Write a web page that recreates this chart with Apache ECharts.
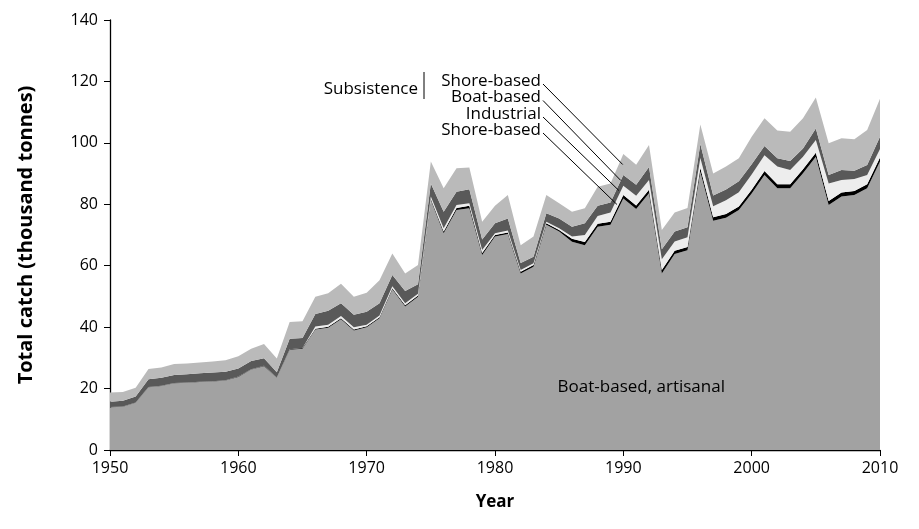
<!DOCTYPE html>
<html>
<head>
<meta charset="utf-8">
<script src="https://cdn.jsdelivr.net/npm/echarts@6/dist/echarts.min.js"></script>
<style>html,body{margin:0;padding:0;background:#fff}#c{width:919px;height:529px}</style>
</head>
<body>
<div id="c"></div>
<script>
const years = [1950,1951,1952,1953,1954,1955,1956,1957,1958,1959,1960,1961,1962,1963,1964,1965,1966,1967,1968,1969,1970,1971,1972,1973,1974,1975,1976,1977,1978,1979,1980,1981,1982,1983,1984,1985,1986,1987,1988,1989,1990,1991,1992,1993,1994,1995,1996,1997,1998,1999,2000,2001,2002,2003,2004,2005,2006,2007,2008,2009,2010];
// Boat-based, artisanal
const boatArtisanal = [13.9,14.1,15.4,20.4,20.8,21.7,21.9,22.1,22.3,22.6,23.8,26.2,27.3,23.5,32.6,33.0,39.2,39.8,42.6,38.9,40.0,42.9,52.3,46.7,49.9,81.4,70.6,78.1,78.7,63.5,69.5,70.3,57.5,59.7,73.3,71.1,67.8,66.7,72.7,73.3,81.9,78.5,83.6,57.5,63.8,65.0,90.6,74.6,75.6,78.1,83.5,89.5,85.2,85.2,90.1,95.5,79.8,82.5,83.0,85.2,93.9];
// Shore-based, artisanal
const shoreArtisanal = [0.1,0.1,0.1,0.1,0.1,0.1,0.1,0.1,0.1,0.1,0.1,0.1,0.1,0.1,0.2,0.2,0.3,0.3,0.3,0.3,0.3,0.3,0.4,0.4,0.4,0.4,0.5,0.7,0.8,0.6,0.5,0.5,0.5,0.5,0.5,0.5,1.0,1.0,1.0,1.0,1.1,1.1,1.1,1.1,1.1,1.1,1.2,1.2,1.2,1.2,1.2,1.3,1.3,1.3,1.3,1.3,1.3,1.3,1.3,1.3,1.3];
// Industrial
const industrial = [0,0,0,0,0,0,0,0,0,0,0,0,0,0,0,0,0.7,0.7,0.7,0.8,0.5,0.6,0.6,0.7,0.6,0.7,1.1,1.0,0.8,1.0,0.6,0.7,0.6,0.6,0.5,0.6,0.7,2.3,2.5,3.0,3.0,3.2,3.2,3.5,3.0,3.2,3.3,3.6,4.5,4.6,5.0,5.2,5.8,4.7,4.1,4.1,5.7,4.1,3.9,3.0,2.8];
// Boat-based, subsistence
const boatSubsistence = [1.7,1.8,1.9,2.5,2.6,2.6,2.7,2.8,2.8,2.8,2.6,2.7,2.5,1.7,3.4,3.3,4.1,4.5,4.2,4.0,4.2,4.0,3.7,4.0,3.1,4.3,5.4,4.3,4.6,3.4,3.2,3.9,2.3,2.1,2.8,3.2,3.2,3.8,3.3,3.3,3.5,3.6,4.2,3.3,3.2,3.2,4.5,3.5,3.5,3.6,3.3,3.0,2.7,2.9,2.7,3.8,2.7,3.3,2.7,3.3,4.0];
// Shore-based, subsistence
const shoreSubsistence = [3.0,2.9,2.9,3.4,3.4,3.6,3.5,3.5,3.6,3.7,4.0,4.0,4.6,4.5,5.5,5.4,5.6,5.7,6.3,5.9,6.2,7.5,7.0,5.7,6.2,7.1,7.6,7.6,7.1,5.8,5.7,7.6,5.8,6.6,5.9,4.9,4.9,4.9,6.2,6.2,6.9,6.5,7.2,6.2,6.2,6.3,6.4,7.1,7.5,7.5,9.0,9.0,9.0,9.5,9.8,10.1,10.4,10.3,10.3,11.4,12.4];

const xTicks = [1950,1960,1970,1980,1990,2000,2010];
const yTicks = [0,20,40,60,80,100,120,140];

const layers = [
  {name:'Boat-based, artisanal', data:boatArtisanal, color:'#a2a2a2'},
  {name:'Shore-based, artisanal', data:shoreArtisanal, color:'#000000'},
  {name:'Industrial', data:industrial, color:'#ededed'},
  {name:'Boat-based, subsistence', data:boatSubsistence, color:'#595959'},
  {name:'Shore-based, subsistence', data:shoreSubsistence, color:'#bababa'}
];

const FONT = '"Open Sans", "Noto Sans", sans-serif';
const chart = echarts.init(document.getElementById('c'), null, {renderer:'canvas'});

const series = layers.map(l => ({
  name:l.name, type:'line', stack:'total', symbol:'none', smooth:false,
  lineStyle:{width:0}, areaStyle:{color:l.color, opacity:1},
  data: l.data, animation:false, z:2
}));
const showTick = (idx, val) => xTicks.indexOf(Number(val)) >= 0;

chart.setOption({
  animation:false,
  grid:{left:110, right:39, top:20, bottom:79},
  xAxis:{type:'category', data:years.map(String), boundaryGap:false,
    name:'Year', nameLocation:'middle', nameGap:44,
    nameTextStyle:{fontFamily:FONT, fontWeight:'bold', fontSize:17, color:'#000'},
    axisLine:{lineStyle:{color:'#000', width:1.3}},
    axisTick:{show:true, length:6, interval:showTick, alignWithLabel:true, lineStyle:{color:'#000'}},
    axisLabel:{fontFamily:FONT, fontSize:16, color:'#000', margin:10, interval:showTick}, splitLine:{show:false}},
  yAxis:{type:'value', min:yTicks[0], max:yTicks[yTicks.length-1], interval:20,
    name:'Total catch (thousand tonnes)', nameLocation:'middle', nameGap:74,
    nameTextStyle:{fontFamily:FONT, fontWeight:'bold', fontSize:20, color:'#000'},
    axisLine:{show:true, lineStyle:{color:'#000', width:1.3}}, axisTick:{show:true, length:6, lineStyle:{color:'#000'}},
    axisLabel:{fontFamily:FONT, fontSize:16, color:'#000', margin:12}, splitLine:{show:false}},
  series:series
});

// annotations
function cum(idx, k){ let s=0; for(let j=0;j<=k;j++) s+=layers[j].data[idx]; return s; }
const i90 = years.indexOf(1990);
const xAt = (i, frac) => {
  const a = chart.convertToPixel({xAxisIndex:0}, String(years[i]));
  const b = chart.convertToPixel({xAxisIndex:0}, String(years[i-1]));
  return a + (b - a) * frac;
};
const yAt = v => chart.convertToPixel({yAxisIndex:0}, v);
const LFONT = '17px ' + FONT;
const labelRight = 541;
const labelRows = [
  {text:'Shore-based', y:81, layer:4},
  {text:'Boat-based', y:97.5, layer:3},
  {text:'Industrial', y:114, layer:2},
  {text:'Shore-based', y:130, layer:1}
];
const els = [];
labelRows.forEach((r,k)=>{
  const lo = r.layer>0 ? cum(i90, r.layer-1) : 0;
  const hi = cum(i90, r.layer);
  const mid = (lo+hi)/2;
  const ex = xAt(i90, 0.05 + k*0.15);
  const ey = yAt(r.layer===1 ? mid-2.5 : mid);
  els.push({type:'text', x:labelRight, y:r.y, style:{text:r.text, fill:'#000', font:LFONT, align:'right', verticalAlign:'middle'}, z:10});
  els.push({type:'line', shape:{x1:labelRight+2, y1:r.y+3, x2:ex, y2:ey}, style:{stroke:'#000', lineWidth:1}, z:10});
});
els.push({type:'text', x:418, y:89, style:{text:'Subsistence', fill:'#000', font:LFONT, align:'right', verticalAlign:'middle'}, z:10});
els.push({type:'line', shape:{x1:424, y1:72, x2:424, y2:99}, style:{stroke:'#000', lineWidth:1}, z:10});
const lx = xAt(years.indexOf(1992), 0.6), ly = yAt(20.5);
els.push({type:'text', x:lx, y:ly, style:{text:'Boat-based, artisanal', fill:'#000', font:LFONT, align:'center', verticalAlign:'middle'}, z:10});
chart.setOption({graphic:{elements:els}});
</script>
</body>
</html>
